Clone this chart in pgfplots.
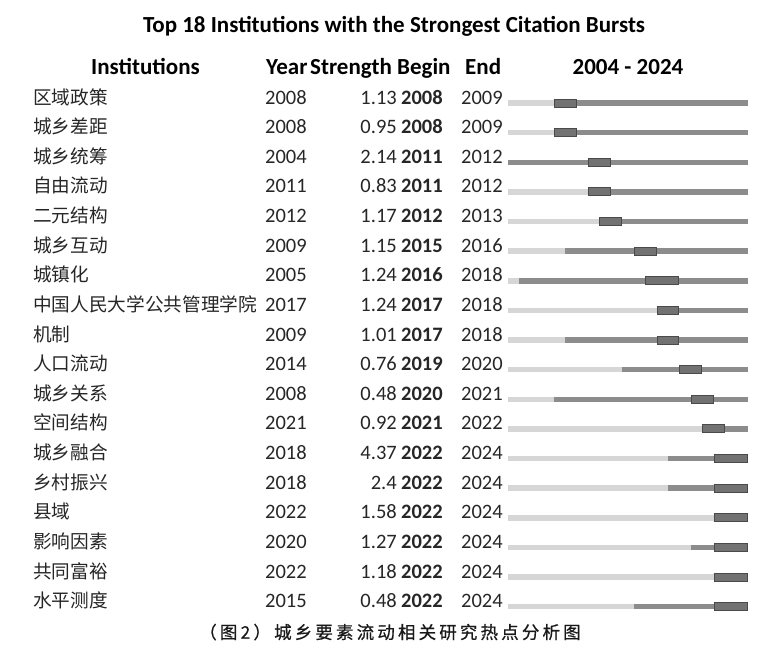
\documentclass[border=0pt]{standalone}
\usepackage{fontspec}
\setmainfont{Carlito}
\newfontfamily\cjk{Noto Sans CJK SC}[Scale=0.91]
\newfontfamily\capfont{Noto Sans CJK SC}[LetterSpace=18, FakeBold=0.6]
\usepackage{pgfplots}
\usepackage{pgfplotstable}
\pgfplotsset{compat=1.18}

\definecolor{lightbar}{HTML}{D6D6D6}
\definecolor{midbar}{HTML}{8C8C8C}
\definecolor{burstfill}{HTML}{727272}
\definecolor{burstedge}{HTML}{4A4A4A}
\definecolor{rowtext}{HTML}{262626}

\tikzset{
    cell/.style={font=\fontsize{20.5}{24}\selectfont, text=rowtext, inner sep=0pt},
    head/.style={font=\fontsize{23}{27}\selectfont\bfseries, text=black, inner sep=0pt},
}

% burst table: row, institution, first year, strength, burst begin, burst end
\pgfplotstableread[col sep=comma]{
row,name,year,strength,begin,end
1,区域政策,2008,1.13,2008,2009
2,城乡差距,2008,0.95,2008,2009
3,城乡统筹,2004,2.14,2011,2012
4,自由流动,2011,0.83,2011,2012
5,二元结构,2012,1.17,2012,2013
6,城乡互动,2009,1.15,2015,2016
7,城镇化,2005,1.24,2016,2018
8,中国人民大学公共管理学院,2017,1.24,2017,2018
9,机制,2009,1.01,2017,2018
10,人口流动,2014,0.76,2019,2020
11,城乡关系,2008,0.48,2020,2021
12,空间结构,2021,0.92,2021,2022
13,城乡融合,2018,4.37,2022,2024
14,乡村振兴,2018,2.4,2022,2024
15,县域,2022,1.58,2022,2024
16,影响因素,2020,1.27,2022,2024
17,共同富裕,2022,1.18,2022,2024
18,水平测度,2015,0.48,2022,2024
}\inst

\begin{document}
\begin{tikzpicture}
\begin{axis}[
    width=764pt, height=652pt,
    scale only axis,
    hide axis,
    clip=false,
    xmin=1959.556, xmax=2026.397,
    ymin=-2.476, ymax=19.528,
    y dir=reverse,
    seg/.style={draw=none, no marks, error bars/.cd, x dir=plus, x explicit, error mark=none},
]
\path (rel axis cs:0,0) rectangle (rel axis cs:1,1);

% background line: first year to 2024
\addplot[seg, error bar style={line width=5.5pt, draw=midbar}]
    table[x=year, y=row, x error expr=2025-\thisrow{year}] {\inst};
% before the first year
\addplot[seg, error bar style={line width=5.5pt, draw=lightbar}]
    table[x expr=2004, y=row, x error expr=\thisrow{year}-2004] {\inst};
% burst
\addplot[seg, error bar style={line width=9pt, draw=burstedge}]
    table[x=begin, y=row, x error expr=\thisrow{end}+1-\thisrow{begin}] {\inst};
\addplot[seg, error bar style={line width=7pt, draw=burstfill}]
    table[x expr=\thisrow{begin}+0.09, y=row, x error expr=\thisrow{end}+1-\thisrow{begin}-0.18] {\inst};

% text columns
\pgfplotsinvokeforeach{0,...,17}{
    \pgfplotstablegetelem{#1}{row}\of\inst \edef\rowy{\pgfplotsretval}
    \pgfplotstablegetelem{#1}{name}\of\inst \edef\nm{\pgfplotsretval}
    \pgfplotstablegetelem{#1}{year}\of\inst \edef\yr{\pgfplotsretval}
    \pgfplotstablegetelem{#1}{strength}\of\inst \edef\st{\pgfplotsretval}
    \pgfplotstablegetelem{#1}{begin}\of\inst \edef\bg{\pgfplotsretval}
    \pgfplotstablegetelem{#1}{end}\of\inst \edef\en{\pgfplotsretval}
    \edef\doit{%
        \noexpand\node[cell, anchor=base west, xshift=-475pt, yshift=-1pt] at (axis cs:2004,\rowy) {\noexpand\cjk \nm};
        \noexpand\node[cell, anchor=base west, xshift=-243pt, yshift=-1pt] at (axis cs:2004,\rowy) {\yr};
        \noexpand\node[cell, anchor=base east, xshift=-111pt, yshift=-1pt] at (axis cs:2004,\rowy) {\st};
        \noexpand\node[cell, anchor=base west, xshift=-107pt, yshift=-1pt] at (axis cs:2004,\rowy) {\noexpand\bfseries\bg};
        \noexpand\node[cell, anchor=base west, xshift=-47pt, yshift=-1pt] at (axis cs:2004,\rowy) {\en};
    }
    \doit
}

% header row
\node[head, anchor=base] at (axis cs:2004,1) [xshift=-362.5pt, yshift=29pt] {Institutions};
\node[head, anchor=base west] at (axis cs:2004,1) [xshift=-242pt, yshift=29pt] {Year};
\node[head, anchor=base west] at (axis cs:2004,1) [xshift=-198pt, yshift=29pt] {Strength};
\node[head, anchor=base west] at (axis cs:2004,1) [xshift=-111pt, yshift=29pt] {Begin};
\node[head, anchor=base west] at (axis cs:2004,1) [xshift=-43pt, yshift=29pt] {End};
\node[head, anchor=base] at (axis cs:2004,1) [xshift=120pt, yshift=29pt] {2004 - 2024};

% title and caption
\node[head, font=\fontsize{23}{27}\selectfont\bfseries, anchor=base] at (axis cs:2004,1) [xshift=-114pt, yshift=71pt]
    {Top 18 Institutions with the Strongest Citation Bursts};
\node[anchor=base, inner sep=0pt, text=black!90, font=\capfont\fontsize{17.5}{20}\selectfont] at (axis cs:2004,18) [xshift=-118pt, yshift=-32pt]
    {（图2）城乡要素流动相关研究热点分析图};
\end{axis}
\end{tikzpicture}
\end{document}
